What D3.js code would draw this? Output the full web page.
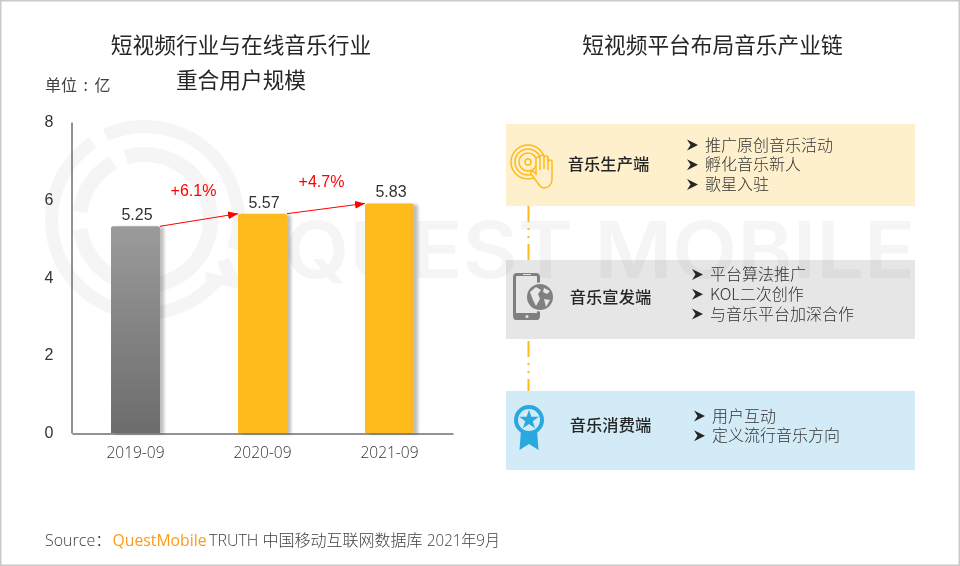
<!DOCTYPE html>
<html><head><meta charset="utf-8">
<script src="https://cdn.jsdelivr.net/npm/d3@7/dist/d3.min.js"></script>
<style>
html,body{margin:0;padding:0;background:#fff}
svg{display:block}
text{font-family:"Noto Sans CJK SC","Noto Sans",sans-serif}
</style></head><body>
<svg id="c" width="960" height="566"></svg>
<script>
const categories=["2019-09","2020-09","2021-09"];
const values=[5.25,5.57,5.83];
const growthLabels=["+6.1%","+4.7%"];
const yTicks=[0,2,4,6,8];
const titleLines=["短视频行业与在线音乐行业","重合用户规模"];
const rightTitle="短视频平台布局音乐产业链";
const unitLabel="单位 : 亿";
const stageNames=["音乐生产端","音乐宣发端","音乐消费端"];
const stageItems=[["推广原创音乐活动","孵化音乐新人","歌星入驻"],["平台算法推广","KOL二次创作","与音乐平台加深合作"],["用户互动","定义流行音乐方向"]];

const svg=d3.select("#c");
const defs=svg.append("defs");
const g=defs.append("linearGradient").attr("id","gray").attr("x1",0).attr("x2",0).attr("y1",0).attr("y2",1);
g.append("stop").attr("offset",0).attr("stop-color","#9b9b9b");
g.append("stop").attr("offset",1).attr("stop-color","#6c6c6c");
const f=defs.append("filter").attr("id","sh").attr("x","-20%").attr("y","-5%").attr("width","160%").attr("height","110%");
f.append("feDropShadow").attr("dx",4).attr("dy",1).attr("stdDeviation",1.8).attr("flood-color","#000").attr("flood-opacity",0.25);
const m=defs.append("marker").attr("id","ah").attr("viewBox","0 0 10 8").attr("refX",10).attr("refY",4).attr("markerWidth",10).attr("markerHeight",8).attr("markerUnits","userSpaceOnUse").attr("orient","auto");
m.append("path").attr("d","M0,0L10,4L0,8Z").attr("fill","#ff0000");

// frame
svg.append("rect").attr("x",0.75).attr("y",0.75).attr("width",958.5).attr("height",564.5).attr("fill","#fff").attr("stroke","#c9c9c9").attr("stroke-width",1.5);

// watermark
const wm=svg.append("g").attr("id","watermark");
const wc="#f5f5f5";
const rad=d=>d*Math.PI/180;
function arc(r0,r1,a0,a1){return d3.arc().innerRadius(r0).outerRadius(r1).startAngle(rad(a0)).endAngle(rad(a1))();}
const wg=wm.append("g").attr("transform","translate(145,220)");
wg.append("path").attr("d",arc(87,100,-25,108)).attr("fill",wc);
wg.append("path").attr("d",arc(87,100,128,326)).attr("fill",wc);
wg.append("path").attr("d",arc(58,73,-17,262)).attr("fill",wc);
wg.append("path").attr("d",arc(58,73,277,331)).attr("fill",wc);
wg.append("path").attr("d","M62,62L100,70L84,38L72,42L78,56L60,52Z").attr("fill",wc);
wm.append("text").attr("x",284).attr("y",278).attr("font-size",78).attr("font-weight",600).attr("fill",wc).style("font-family","Inter").attr("textLength",631).attr("lengthAdjust","spacingAndGlyphs").text("QUEST MOBILE");

// titles
const title=svg.append("g").attr("fill","#262626").attr("font-size",21.7).attr("text-anchor","middle");
title.selectAll("text").data(titleLines).join("text").attr("x",241).attr("y",(d,i)=>53+i*35).text(d=>d);
title.append("text").attr("x",712.5).attr("y",52.5).text(rightTitle);
svg.append("text").attr("x",45).attr("y",91).attr("font-size",16).attr("word-spacing",3).attr("fill","#404040").text(unitLabel);

// chart
const x=d3.scaleBand().domain(categories).range([72,453]).paddingInner(78/127).paddingOuter(39/127);
const yVal=d3.scaleLinear().domain([0,8]).range([433,118]);
const yAxisScale=d3.scaleLinear().domain([0,8]).range([433,122]);

const rnd=(xx,yy,w,h,r)=>`M${xx},${yy+h}V${yy+r}Q${xx},${yy} ${xx+r},${yy}H${xx+w-r}Q${xx+w},${yy} ${xx+w},${yy+r}V${yy+h}Z`;
svg.append("g").selectAll("path").data(values).join("path")
 .attr("d",(d,i)=>rnd(x(categories[i]),yVal(d),x.bandwidth(),yVal(0)-yVal(d),2))
 .attr("fill",(d,i)=>i===0?"url(#gray)":"#ffba1a").attr("filter","url(#sh)");

const ya=d3.axisLeft(yAxisScale).tickValues(yTicks).tickSize(0).tickPadding(18).tickFormat(d3.format("d"));
const yg=svg.append("g").attr("transform","translate(71.5,0)").call(ya);
yg.select(".domain").attr("stroke","#262626").attr("stroke-width",1);
yg.selectAll("text").attr("font-size",16).attr("fill","#333").attr("dy","0.29em").style("font-family","'Liberation Sans'");
const xa=d3.axisBottom(x).tickSize(0).tickPadding(13);
const xg=svg.append("g").attr("transform","translate(0,433.5)").call(xa);
xg.select(".domain").attr("stroke","#262626").attr("stroke-width",1);
xg.selectAll("text").attr("font-size",15.5).attr("font-weight",300).attr("fill","#333").style("font-family","'Open Sans'");

svg.append("g").selectAll("text").data(values).join("text")
 .attr("x",(d,i)=>x(categories[i])+x.bandwidth()/2+1.5).attr("y",d=>yVal(d)-6)
 .attr("text-anchor","middle").attr("font-size",16).attr("fill","#333").style("font-family","'Liberation Sans'")
 .text(d=>d3.format(".2f")(d));

const arrows=svg.append("g");
arrows.selectAll("line").data(growthLabels).join("line")
 .attr("x1",(d,i)=>x(categories[i])+x.bandwidth()).attr("y1",(d,i)=>yVal(values[i]))
 .attr("x2",(d,i)=>x(categories[i+1])).attr("y2",(d,i)=>yVal(values[i+1]))
 .attr("stroke","#ff0000").attr("stroke-width",1).attr("marker-end","url(#ah)");
arrows.selectAll("text").data(growthLabels).join("text")
 .attr("x",(d,i)=>[193.5,321.5][i]).attr("y",(d,i)=>[195.5,186.5][i]).attr("text-anchor","middle")
 .attr("font-size",16).attr("fill","#ff0000").style("font-family","'Liberation Sans'").text(d=>d);

// right panel
const boxes=[{y:124,h:82,c:"#fef0cd"},{y:260,h:79,c:"#e6e6e6"},{y:391,h:79,c:"#d2ebf7"}];
const listX=[693,698,700],listY=[145,274.5,416];
const pn=svg.append("g");
[[206,260],[341,391]].forEach(([a,b])=>{
  pn.append("line").attr("x1",528.5).attr("x2",528.5).attr("y1",a).attr("y2",b).attr("stroke","#ffba1a").attr("stroke-width",2).attr("stroke-dasharray","16 6 2 6 2 6 16 100");
});
pn.selectAll("rect").data(boxes).join("rect").attr("x",506).attr("width",409).attr("y",d=>d.y).attr("height",d=>d.h).attr("fill",d=>d.c).style("mix-blend-mode","multiply");
pn.selectAll("text.n").data(stageNames).join("text").attr("class","n").attr("text-anchor","middle")
 .attr("x",(d,i)=>[608.5,610.5,610.5][i]).attr("y",(d,i)=>[170,303,431][i]).attr("font-size",16.3).attr("font-weight",500).attr("fill","#262626").text(d=>d);
stageItems.forEach((items,k)=>{
  items.forEach((t,i)=>{
    const yy=listY[k]+i*19.7;
    pn.append("path").attr("transform",`translate(${listX[k]-6},${yy})`).attr("d","M0,-5.5L11,0L0,5.5L3.5,0Z").attr("fill","#262626");
    pn.append("text").attr("x",listX[k]+12).attr("y",yy).attr("dy","0.36em").attr("font-size",16).attr("font-weight",300).attr("fill","#333").text(t);
  });
});

// icon: disc and hand
const i1=svg.append("g").attr("transform","translate(530,165)").attr("fill","none").attr("stroke","#ffba1a").attr("stroke-width",1.5);
[17,13,9].forEach(r=>i1.append("circle").attr("r",r).attr("cx",-2).attr("cy",-3));
i1.append("circle").attr("r",3).attr("cx",-2).attr("cy",-3);
i1.append("path").attr("d","M10,21L1,9Q0,6 3,6L6,9V-6A2,2 0 0 1 10,-6V-8A2,2 0 0 1 14,-8V-7A2,2 0 0 1 18,-7V-3A2,2 0 0 1 22,-3V14C22,20 18,23 14,23C12,23 11,22 10,21Z").attr("fill","#fef0cd");
i1.append("path").attr("d","M10,-6V5M14,-8V4M18,-7V5");
// icon: phone and globe
const i2=svg.append("g").attr("transform","translate(513,273)");
i2.append("rect").attr("x",1.5).attr("y",1.5).attr("width",24).attr("height",44).attr("rx",2.5).attr("fill","none").attr("stroke","#808080").attr("stroke-width",3);
i2.append("rect").attr("x",1).attr("y",40).attr("width",25).attr("height",7).attr("rx",2).attr("fill","#808080");
i2.append("circle").attr("cx",14).attr("cy",43.5).attr("r",1.5).attr("fill","#e6e6e6");
i2.append("rect").attr("x",10).attr("y",1).attr("width",8).attr("height",1).attr("fill","#e6e6e6");
i2.append("circle").attr("cx",27).attr("cy",24).attr("r",14.5).attr("fill","#e6e6e6");
i2.append("circle").attr("cx",27).attr("cy",24).attr("r",13).attr("fill","#808080");
i2.append("path").attr("d","M17,19L23,14L28,17L25,21L27,26L23,33L20,27Z M31,15L37,18L34,21L30,19Z M31,26L37,27L33,34Z").attr("fill","#e6e6e6");
// icon: ribbon badge
const i3=svg.append("g").attr("transform","translate(529,420)");
i3.append("path").attr("d","M-8,10L-9.5,30L0,24L9.5,30L8,10Z").attr("fill","#2ba8de");
i3.append("circle").attr("r",13).attr("fill","#d2ebf7").attr("stroke","#2ba8de").attr("stroke-width",4);
i3.append("path").attr("d",d3.symbol().type(d3.symbolStar).size(120)()).attr("fill","#2ba8de");

// source
const s=svg.append("text").attr("x",45).attr("y",546).attr("font-size",16).attr("font-weight",300).attr("fill","#404040").style("font-family","'Open Sans','Noto Sans CJK SC'");
s.append("tspan").text("Source：");
s.append("tspan").attr("fill","#ff9a16").attr("font-weight",400).attr("x",112.5).attr("textLength",94).attr("lengthAdjust","spacingAndGlyphs").text("QuestMobile");
s.append("tspan").attr("x",209).text("TRUTH 中国移动互联网数据库");
s.append("tspan").attr("x",427).attr("textLength",73).attr("lengthAdjust","spacingAndGlyphs").text("2021年9月");
</script></body></html>
